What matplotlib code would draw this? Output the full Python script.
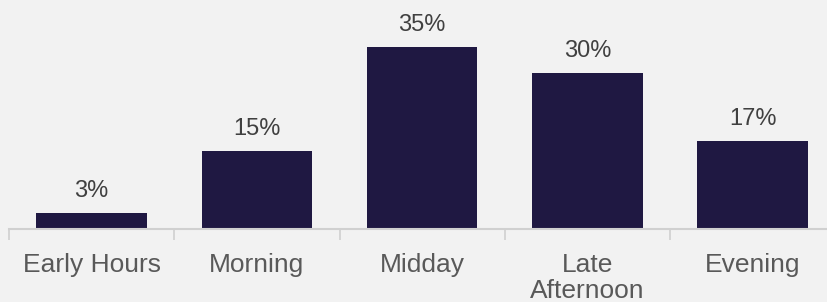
import matplotlib.pyplot as plt
import numpy as np

# Share of activity by time of day
categories = ["Early Hours", "Morning", "Midday", "Late\nAfternoon", "Evening"]
values = [3, 15, 35, 30, 17]
labels = ["3%", "15%", "35%", "30%", "17%"]

bg = "#f2f2f2"
bar_color = "#1f1842"

plt.rcParams["font.family"] = ["Liberation Sans", "DejaVu Sans"]

fig = plt.figure(figsize=(8.28, 3.02), dpi=100, facecolor=bg)
ax = fig.add_axes([9 / 828, 73 / 302, 819 / 828, 229 / 302])
ax.set_facecolor(bg)

x = np.arange(len(categories))
ax.bar(x, values, width=0.67, color=bar_color)

for xi, v, lab in zip(x, values, labels):
    ax.annotate(lab, (xi, v), xytext=(0, 11.5), textcoords="offset points",
                ha="center", va="baseline", fontsize=17, color="#404040")

ax.set_xlim(-0.5, 4.456)
ax.set_ylim(0, 44.0)

ax.set_xticks(x)
ax.set_xticklabels(categories, fontsize=19, color="#595959", linespacing=1.12)
ax.set_xticks(np.arange(-0.5, 4.5, 1), minor=True)
ax.tick_params(axis="x", which="major", length=0, pad=17)
ax.tick_params(axis="x", which="minor", length=8, width=1.2, color="#d0d0d0")
ax.set_yticks([])

for side in ["left", "right", "top"]:
    ax.spines[side].set_visible(False)
ax.spines["bottom"].set_color("#d0d0d0")
ax.spines["bottom"].set_linewidth(1.5)

fig.savefig("out.png", dpi=100, facecolor=bg)
